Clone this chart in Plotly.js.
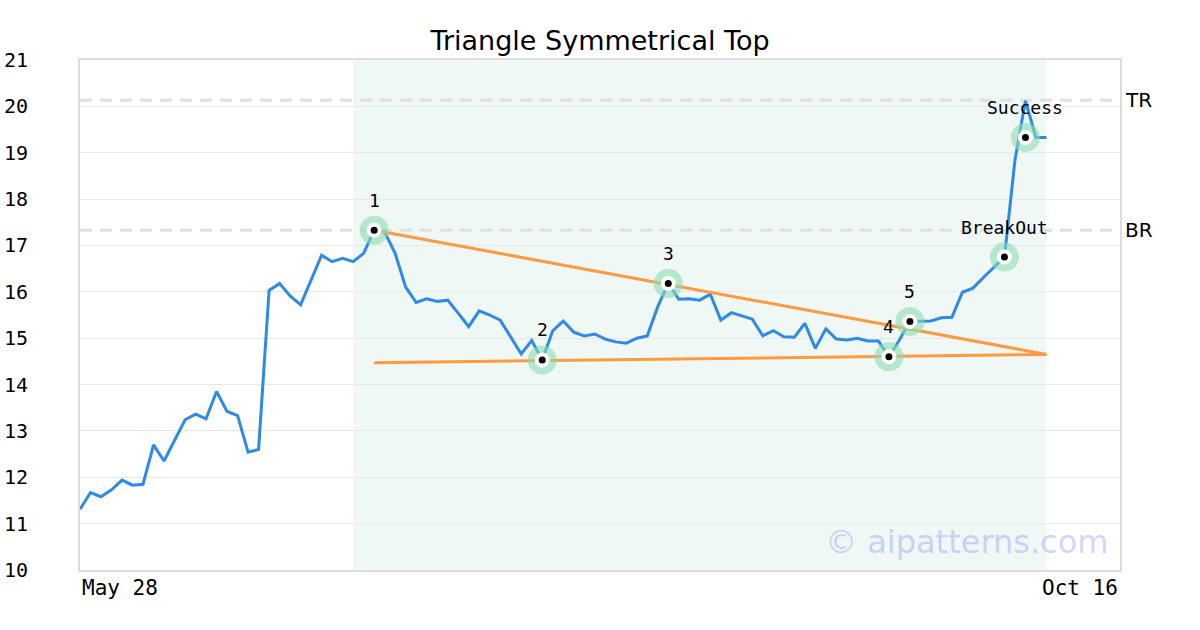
<!DOCTYPE html>
<html><head><meta charset="utf-8">
<script src="https://cdn.plot.ly/plotly-3.0.1.min.js"></script>
<style>html,body{margin:0;padding:0;background:#fff}#chart{width:1200px;height:630px}</style>
</head><body><div id="chart"></div>
<script>
// Close prices, one per trading session (May 28 .. Oct 16)
const prices = [
  11.31, 11.67, 11.58, 11.73, 11.94, 11.83, 11.85, 12.70, 12.35, 12.80,
  13.24, 13.36, 13.26, 13.85, 13.42, 13.33, 12.54, 12.60, 16.03, 16.18,
  15.91, 15.72, 16.26, 16.79, 16.65, 16.72, 16.65, 16.83, 17.33, 17.29,
  16.83, 16.10, 15.77, 15.85, 15.79, 15.82, 15.54, 15.25, 15.59, 15.50,
  15.39, 15.02, 14.66, 14.95, 14.53, 15.16, 15.37, 15.13, 15.05, 15.09,
  14.98, 14.92, 14.89, 15.00, 15.05, 15.68, 16.18, 15.84, 15.85, 15.82,
  15.95, 15.39, 15.55, 15.48, 15.41, 15.05, 15.16, 15.03, 15.02, 15.32,
  14.78, 15.20, 14.98, 14.96, 15.00, 14.94, 14.94, 14.60, 14.96, 15.36,
  15.36, 15.37, 15.44, 15.45, 15.99, 16.08, 16.31, 16.54, 16.75, 18.84,
  20.12, 19.33, 19.33
];
const sessions = prices.map((_, i) => i);

// Pattern pivot points
const pivotIdx    = [28, 44, 56, 77, 79, 88, 90];
const pivotVal    = [17.33, 14.53, 16.18, 14.60, 15.36, 16.75, 19.33];
const pivotLabels = ['1', '2', '3', '4', '5', 'BreakOut', 'Success'];

// Triangle trend lines
const trendIdx   = [28, 92];
const upperTrend = [17.33, 14.65];
const lowerTrend = [14.47, 14.65];

// Pattern window
const patternWindow = [26, 92];

// Reference levels
const levelNames  = ['TR', 'BR'];
const levelValues = [20.13, 17.33];

// Axis labels
const xTickLabels = ['May 28', 'Oct 16'];
const yTickVals = [10, 11, 12, 13, 14, 15, 16, 17, 18, 19, 20, 21];

const mono = 'DejaVu Sans Mono, monospace';
const sans = 'DejaVu Sans, sans-serif';

const traces = [
  {x: sessions, y: prices, type: 'scatter', mode: 'lines',
   line: {color: '#2e8ae6', width: 3}, hoverinfo: 'skip'},
  {x: trendIdx, y: upperTrend, type: 'scatter', mode: 'lines',
   line: {color: '#ff9a40', width: 3}},
  {x: trendIdx, y: lowerTrend, type: 'scatter', mode: 'lines',
   line: {color: '#ff9a40', width: 3}},
  {x: pivotIdx, y: pivotVal, type: 'scatter', mode: 'markers',
   marker: {size: 29, color: 'rgba(140,220,180,0.6)'}},
  {x: pivotIdx, y: pivotVal, type: 'scatter', mode: 'markers',
   marker: {size: 11, color: '#000', line: {color: '#fff', width: 4}}}
];

const shapes = [
  {type: 'rect', xref: 'x', yref: 'paper', x0: patternWindow[0], x1: patternWindow[1],
   y0: 0, y1: 1, fillcolor: '#eff8f4', line: {width: 0}, layer: 'below'}
];
levelValues.forEach(v => shapes.push({
  type: 'line', xref: 'paper', yref: 'y', x0: 0, x1: 1, y0: v, y1: v,
  line: {color: '#e0e0e0', width: 3, dash: '12px,8px'}, layer: 'between'
}));

const annotations = [];
pivotIdx.forEach((xi, k) => annotations.push({
  x: xi, y: pivotVal[k], text: pivotLabels[k], showarrow: false,
  yshift: 30, yanchor: 'middle', font: {family: mono, size: 18, color: '#000'}
}));
levelNames.forEach((n, k) => annotations.push({
  xref: 'paper', yref: 'y', x: 1, y: levelValues[k], text: n, showarrow: false,
  xanchor: 'left', xshift: 3, yanchor: 'middle', font: {family: sans, size: 20, color: '#000'}
}));
annotations.push({xref: 'paper', yref: 'paper', x: 0, y: 0, text: xTickLabels[0], showarrow: false,
  xanchor: 'left', yanchor: 'top', yshift: -4, font: {family: mono, size: 21, color: '#000'}});
annotations.push({xref: 'paper', yref: 'paper', x: 1, y: 0, text: xTickLabels[1], showarrow: false,
  xanchor: 'right', yanchor: 'top', yshift: -4, font: {family: mono, size: 21, color: '#000'}});
annotations.push({xref: 'paper', yref: 'paper', x: 0.99, y: 0.055, text: '© aipatterns.com', showarrow: false,
  xanchor: 'right', yanchor: 'middle', font: {family: sans, size: 32, color: 'rgba(130,130,255,0.35)'}});

const layout = {
  width: 1200, height: 630,
  margin: {l: 80, r: 80, t: 60, b: 60},
  paper_bgcolor: '#fff', plot_bgcolor: '#fff',
  showlegend: false,
  title: {text: 'Triangle Symmetrical Top', x: 0.5, xanchor: 'center', y: 0.936, yref: 'container',
          yanchor: 'middle', font: {family: sans, size: 27, color: '#000'}},
  xaxis: {range: [0, 99], showgrid: false, zeroline: false, showticklabels: false, ticks: '',
          showline: true, mirror: true, linecolor: '#dddddd', linewidth: 2, fixedrange: true},
  yaxis: {range: [10, 21], tickvals: yTickVals, showgrid: true, gridcolor: '#e8e8e8', gridwidth: 1,
          zeroline: false, showline: true, mirror: true, linecolor: '#dddddd', linewidth: 2,
          ticks: '', ticklabelstandoff: 46, tickfont: {family: mono, size: 20, color: '#000'}},
  shapes: shapes,
  annotations: annotations
};

Plotly.newPlot('chart', traces, layout, {staticPlot: true, displayModeBar: false});
</script></body></html>
